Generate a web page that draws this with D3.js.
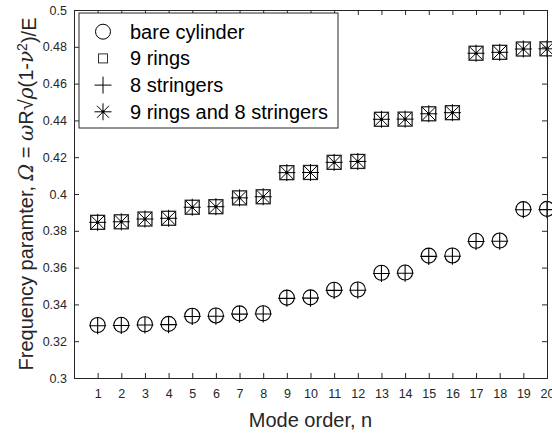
<!DOCTYPE html>
<html>
<head>
<meta charset="utf-8">
<script src="https://cdn.jsdelivr.net/npm/d3@7"></script>
<style>
	body{ margin:0; background:#fff; }
	svg{ display:block; font-family:"Liberation Sans",Arial,sans-serif; }
</style>
</head>
<body>
<div id="chart"></div>
<script>
	// mode orders
	var modes = [1,2,3,4,5,6,7,8,9,10,11,12,13,14,15,16,17,18,19,20];

	// frequency parameter per configuration
	var bareCylinder = [0.3288,0.3289,0.3292,0.3294,0.3338,0.3340,0.3351,0.3352,0.3437,0.3438,0.3480,0.3481,0.3572,0.3573,0.3665,0.3666,0.3746,0.3747,0.3918,0.3919];
	var nineRings = [0.3846,0.3849,0.3864,0.3868,0.3928,0.3931,0.3979,0.3985,0.4116,0.4117,0.4172,0.4177,0.4406,0.4407,0.4436,0.4442,0.4765,0.4770,0.4788,0.4789];
	var eightStringers = [0.3284,0.3285,0.3288,0.3290,0.3334,0.3336,0.3347,0.3348,0.3433,0.3434,0.3476,0.3477,0.3568,0.3569,0.3661,0.3662,0.3742,0.3743,0.3914,0.3915];
	var ringsAndStringers = [0.3846,0.3849,0.3864,0.3868,0.3928,0.3931,0.3979,0.3985,0.4116,0.4117,0.4172,0.4177,0.4406,0.4407,0.4436,0.4442,0.4765,0.4770,0.4788,0.4789];

	var yTicks = [0.3,0.32,0.34,0.36,0.38,0.4,0.42,0.44,0.46,0.48,0.5];
	var legendLabels = ['bare cylinder','9 rings','8 stringers','9 rings and 8 stringers'];

	var W = 552, H = 434;
	var margin = {left:74, right:5, top:10, bottom:56};
	var axisColor = '#262626';

	var svg = d3.select('#chart').append('svg')
		.attr('width',W)
		.attr('height',H);

	var x = d3.scaleLinear().domain([0,20]).range([margin.left, W-margin.right]);
	var y = d3.scaleLinear().domain([0.3,0.5]).range([H-margin.bottom, margin.top]);

	// marker shapes
	var markers = {
		circle: function(g){ g.append('circle').attr('r',7.5).attr('fill','none').attr('stroke','#000').attr('stroke-width',1.1); }
		,square: function(g){ g.append('rect').attr('x',-7).attr('y',-7).attr('width',14).attr('height',14).attr('fill','none').attr('stroke','#222').attr('stroke-width',1.3); }
		,plus: function(g){ g.append('path').attr('d','M-8.5,0H8.5M0,-8.5V8.5').attr('stroke','#000').attr('stroke-width',1.1); }
		,star: function(g){
			g.append('path').attr('d','M-8.5,0H8.5M0,-8.5V8.5M-6.5,-6.5L6.5,6.5M-6.5,6.5L6.5,-6.5').attr('stroke','#000').attr('stroke-width',1);
			g.append('circle').attr('r',1.6).attr('fill','#000');
		}
	};

	var series = [
		{name:legendLabels[0], values:bareCylinder, marker:'circle'}
		,{name:legendLabels[1], values:nineRings, marker:'square'}
		,{name:legendLabels[2], values:eightStringers, marker:'plus'}
		,{name:legendLabels[3], values:ringsAndStringers, marker:'star'}
	];

	var plot = svg.append('g').attr('class','plot');

	// axes box, ticks inside
	var xAxis = d3.axisBottom(x).tickValues(modes).tickSize(-5).tickPadding(11).tickFormat(d3.format('d'));
	var gx = svg.append('g')
		.attr('transform','translate(0,'+(H-margin.bottom)+')')
		.call(xAxis);
	var gxTop = svg.append('g')
		.attr('transform','translate(0,'+margin.top+')')
		.call(d3.axisTop(x).tickValues(modes).tickSize(-5).tickFormat(''));

	var yAxis = d3.axisLeft(y).tickValues(yTicks).tickSize(-5).tickPadding(7)
		.tickFormat(function(d){ return String(+d.toFixed(2)); });
	var gy = svg.append('g')
		.attr('transform','translate('+margin.left+',0)')
		.call(yAxis);
	var gyRight = svg.append('g')
		.attr('transform','translate('+(W-margin.right)+',0)')
		.call(d3.axisRight(y).tickValues(yTicks).tickSize(-5).tickFormat(''));

	[gx,gxTop,gy,gyRight].forEach(function(g){
		g.select('.domain').attr('stroke',axisColor).attr('stroke-width',1);
		g.selectAll('.tick line').attr('stroke',axisColor);
		g.selectAll('.tick text').attr('fill',axisColor).style('font-size','12.5px').style('font-family','"Liberation Sans",Arial,sans-serif');
	});
	gx.selectAll('.tick text').attr('dy','0.71em');

	// data markers
	series.forEach(function(s){
		var g = plot.append('g').attr('class','series');
		modes.forEach(function(n,i){
			var m = g.append('g').attr('transform','translate('+x(n)+','+y(s.values[i])+')');
			markers[s.marker](m);
		});
	});

	// legend
	var legend = svg.append('g').attr('transform','translate(79,13)');
	legend.append('rect')
		.attr('width',259).attr('height',115)
		.attr('fill','#fff').attr('stroke',axisColor).attr('stroke-width',1);
	var legendMarkers = {
		circle: function(g){ g.append('circle').attr('r',7.5).attr('fill','none').attr('stroke','#000').attr('stroke-width',1); }
		,square: function(g){ g.append('rect').attr('x',-4.5).attr('y',-4.5).attr('width',9).attr('height',9).attr('fill','none').attr('stroke','#333').attr('stroke-width',1); }
		,plus: function(g){ g.append('path').attr('d','M-8.5,0H8.5M0,-8.5V8.5').attr('stroke','#000').attr('stroke-width',1); }
		,star: function(g){
			g.append('path').attr('d','M-8.5,0H8.5M0,-8.5V8.5M-6,-6L6,6M-6,6L6,-6').attr('stroke','#000').attr('stroke-width',1);
			g.append('circle').attr('r',1.5).attr('fill','#000');
		}
	};
	series.forEach(function(s,i){
		var row = legend.append('g').attr('transform','translate(0,'+(18.7+i*26.7)+')');
		legendMarkers[s.marker](row.append('g').attr('transform','translate(24,0)'));
		row.append('text')
			.attr('x',51).attr('y',0).attr('dy','0.35em')
			.attr('fill','#000')
			.style('font-size','20px')
			.text(s.name);
	});

	// axis labels
	svg.append('text')
		.attr('x',(x.range()[0]+x.range()[1])/2)
		.attr('y',427)
		.attr('text-anchor','middle')
		.attr('fill',axisColor)
		.style('font-size','20px')
		.text('Mode order, n');

	var yl = svg.append('text')
		.attr('transform','translate(33,'+((y.range()[0]+y.range()[1])/2)+') rotate(-90)')
		.attr('text-anchor','middle')
		.attr('fill',axisColor)
		.style('font-size','20px');
	yl.append('tspan').text('Frequency paramter, ');
	yl.append('tspan').style('font-style','italic').style('font-family','"DejaVu Serif",serif').text('Ω');
	yl.append('tspan').text(' = ');
	yl.append('tspan').style('font-style','italic').style('font-family','"DejaVu Serif",serif').text('ω');
	yl.append('tspan').text('R\u221A');
	yl.append('tspan').style('font-style','italic').style('font-family','"DejaVu Serif",serif').text('ρ');
	yl.append('tspan').text('(1-');
	yl.append('tspan').style('font-style','italic').style('font-family','"DejaVu Serif",serif').text('ν');
	yl.append('tspan').attr('dy','-0.45em').style('font-size','14px').text('2');
	yl.append('tspan').attr('dy','0.45em').text(')/E');
</script>
</body>
</html>
